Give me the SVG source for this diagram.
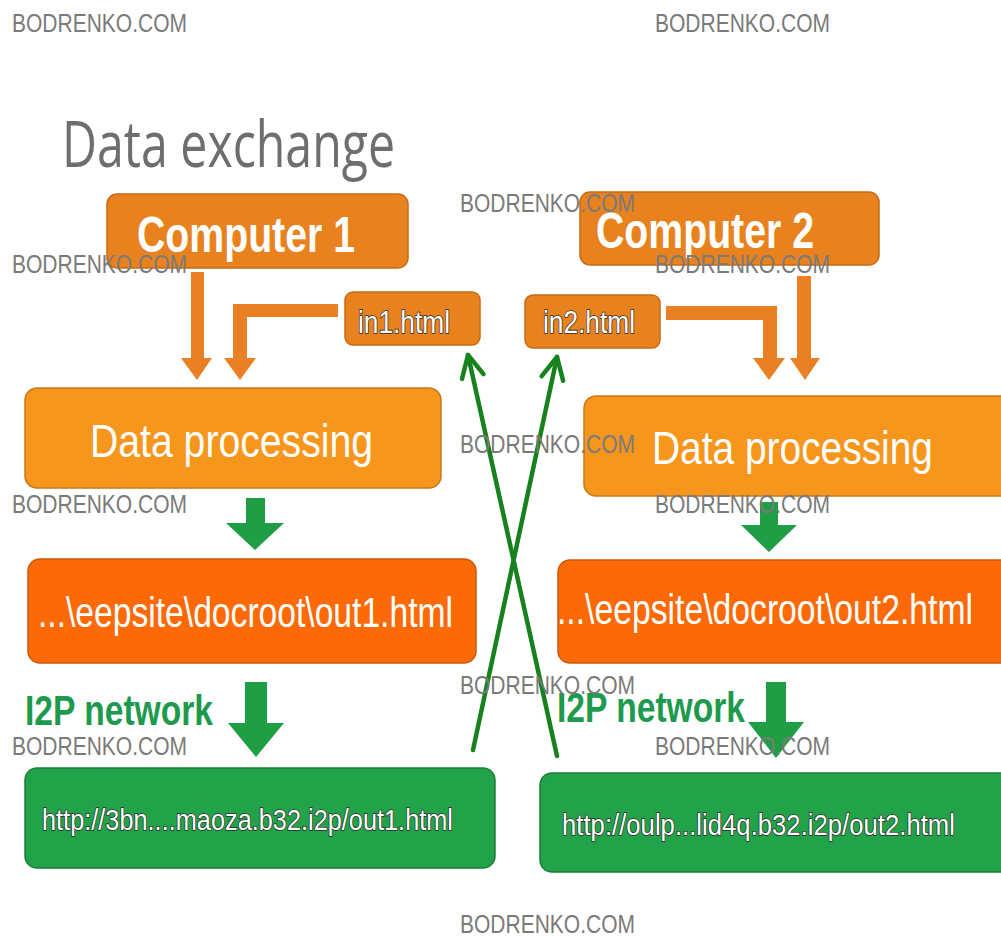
<svg xmlns="http://www.w3.org/2000/svg" width="1001" height="938" viewBox="0 0 1001 938">
  <style>
    .wm { font-family: "Liberation Sans", Arial, sans-serif; font-size: 26px; fill: #7a7a7a; }
    .title { font-family: "Open Sans", "Noto Sans", sans-serif; font-size: 64px; font-weight: 500; fill: #6e6e6e; }
    .comp { fill: #e8821e; stroke: #c96a12; stroke-width: 1.5; }
    .proc { fill: #f6961c; stroke: #c9781a; stroke-width: 1.5; }
    .out { fill: #fb6a07; stroke: #c9580a; stroke-width: 1.5; }
    .net { fill: #22a249; stroke: #1a7e38; stroke-width: 1.5; }
    .big { font-family: "Liberation Sans", Arial, sans-serif; fill: #ffffff; }
    .bold { font-weight: bold; }
    .outl { font-family: "Liberation Sans", Arial, sans-serif; fill: #ffffff; stroke: #2b2b2b; stroke-width: 1.6; paint-order: stroke; }
    .i2p { font-family: "Liberation Sans", Arial, sans-serif; font-weight: bold; font-size: 43px; fill: #1d9a4d; }
    .oarrow { fill: #e98024; }
    .garrow { fill: #1f9e46; }
    .cross { fill: none; stroke: #16821e; stroke-width: 4.5; stroke-linecap: round; }
  </style>
  <defs>
    <marker id="vhead" markerUnits="userSpaceOnUse" markerWidth="40" markerHeight="40" refX="0" refY="0" viewBox="-30 -20 40 40" orient="auto" overflow="visible">
      <path d="M -22 -11 L 0 0 L -22 11" fill="none" stroke="#16821e" stroke-width="4.5" stroke-linecap="round" stroke-linejoin="round"/>
    </marker>
  </defs>

  <rect width="1001" height="938" fill="#ffffff"/>

  <text class="title" x="62" y="167" textLength="333" lengthAdjust="spacingAndGlyphs">Data exchange</text>

  <!-- left column -->
  <g id="computer1">
    <rect class="comp" x="107" y="194" width="301" height="74" rx="10"/>
    <text class="big bold" x="137" y="252" font-size="50" textLength="218" lengthAdjust="spacingAndGlyphs">Computer 1</text>
  </g>
  <g id="in1">
    <rect class="comp" x="345" y="292" width="135" height="53" rx="8"/>
    <text class="outl" x="358" y="333" font-size="32" textLength="92" lengthAdjust="spacingAndGlyphs">in1.html</text>
  </g>
  <g id="processing1">
    <rect class="proc" x="25" y="388" width="416" height="100" rx="12"/>
    <text class="big" x="90" y="457" font-size="47" textLength="283" lengthAdjust="spacingAndGlyphs">Data processing</text>
  </g>
  <g id="out1">
    <rect class="out" x="28" y="559" width="448" height="104" rx="12"/>
    <text class="big" x="38" y="627" font-size="42" textLength="415" lengthAdjust="spacingAndGlyphs">...\eepsite\docroot\out1.html</text>
  </g>
  <g id="i2p-label1">
    <text class="i2p" x="25" y="725" textLength="188" lengthAdjust="spacingAndGlyphs">I2P network</text>
  </g>
  <g id="url1">
    <rect class="net" x="25" y="768" width="470" height="100" rx="12"/>
    <text class="outl" x="42" y="830" font-size="30" textLength="411" lengthAdjust="spacingAndGlyphs">http://3bn....maoza.b32.i2p/out1.html</text>
  </g>

  <!-- right column -->
  <g id="computer2">
    <rect class="comp" x="580" y="192" width="299" height="73" rx="10"/>
    <text class="big bold" x="596" y="248" font-size="50" textLength="218" lengthAdjust="spacingAndGlyphs">Computer 2</text>
  </g>
  <g id="in2">
    <rect class="comp" x="525" y="295" width="135" height="53" rx="8"/>
    <text class="outl" x="543" y="333" font-size="32" textLength="92" lengthAdjust="spacingAndGlyphs">in2.html</text>
  </g>
  <g id="processing2">
    <rect class="proc" x="584" y="396" width="430" height="100" rx="12"/>
    <text class="big" x="652" y="464" font-size="47" textLength="281" lengthAdjust="spacingAndGlyphs">Data processing</text>
  </g>
  <g id="out2">
    <rect class="out" x="558" y="560" width="456" height="103" rx="12"/>
    <text class="big" x="557" y="624" font-size="42" textLength="416" lengthAdjust="spacingAndGlyphs">...\eepsite\docroot\out2.html</text>
  </g>
  <g id="i2p-label2">
    <text class="i2p" x="557" y="722" textLength="188" lengthAdjust="spacingAndGlyphs">I2P network</text>
  </g>
  <g id="url2">
    <rect class="net" x="540" y="773" width="474" height="99" rx="12"/>
    <text class="outl" x="562" y="835" font-size="30" textLength="393" lengthAdjust="spacingAndGlyphs">http://oulp...lid4q.b32.i2p/out2.html</text>
  </g>

  <g id="connectors">
    <!-- orange block arrows into data processing -->
    <polygon class="oarrow" points="191,272 204,272 204,358 212,358 197,380 181,358 191,358"/>
    <polygon class="oarrow" points="338,304 338,317 247,317 247,358 256,358 240,380 224,358 233,358 233,304"/>
    <polygon class="oarrow" points="666,306 777,306 777,358 785,358 769,380 753,358 763,358 763,320 666,320"/>
    <polygon class="oarrow" points="797,276 811,276 811,358 820,358 805,380 790,358 797,358"/>
    <!-- green block arrows -->
    <polygon class="garrow" points="246,498 265,498 265,523 284,523 255,550 226,523 246,523"/>
    <polygon class="garrow" points="760,502 778,502 778,525 797,525 769,552 741,525 760,525"/>
    <polygon class="garrow" points="245,682 267,682 267,723 284,723 256,757 228,723 245,723"/>
    <polygon class="garrow" points="766,682 786,682 786,722 804,722 776,758 748,722 766,722"/>
    <!-- crossing links between published pages and inputs -->
    <line class="cross" x1="473" y1="750" x2="557" y2="357" marker-end="url(#vhead)"/>
    <line class="cross" x1="557" y1="756" x2="468" y2="355" marker-end="url(#vhead)"/>
  </g>

  <g id="watermarks">
    <text class="wm" x="12" y="32" textLength="175" lengthAdjust="spacingAndGlyphs">BODRENKO.COM</text>
    <text class="wm" x="655" y="32" textLength="175" lengthAdjust="spacingAndGlyphs">BODRENKO.COM</text>
    <text class="wm" x="460" y="212" textLength="175" lengthAdjust="spacingAndGlyphs">BODRENKO.COM</text>
    <text class="wm" x="12" y="273" textLength="175" lengthAdjust="spacingAndGlyphs">BODRENKO.COM</text>
    <text class="wm" x="655" y="273" textLength="175" lengthAdjust="spacingAndGlyphs">BODRENKO.COM</text>
    <text class="wm" x="460" y="453" textLength="175" lengthAdjust="spacingAndGlyphs">BODRENKO.COM</text>
    <text class="wm" x="12" y="513" textLength="175" lengthAdjust="spacingAndGlyphs">BODRENKO.COM</text>
    <text class="wm" x="655" y="513" textLength="175" lengthAdjust="spacingAndGlyphs">BODRENKO.COM</text>
    <text class="wm" x="460" y="694" textLength="175" lengthAdjust="spacingAndGlyphs">BODRENKO.COM</text>
    <text class="wm" x="12" y="755" textLength="175" lengthAdjust="spacingAndGlyphs">BODRENKO.COM</text>
    <text class="wm" x="655" y="755" textLength="175" lengthAdjust="spacingAndGlyphs">BODRENKO.COM</text>
    <text class="wm" x="460" y="933" textLength="175" lengthAdjust="spacingAndGlyphs">BODRENKO.COM</text>
  </g>
</svg>
